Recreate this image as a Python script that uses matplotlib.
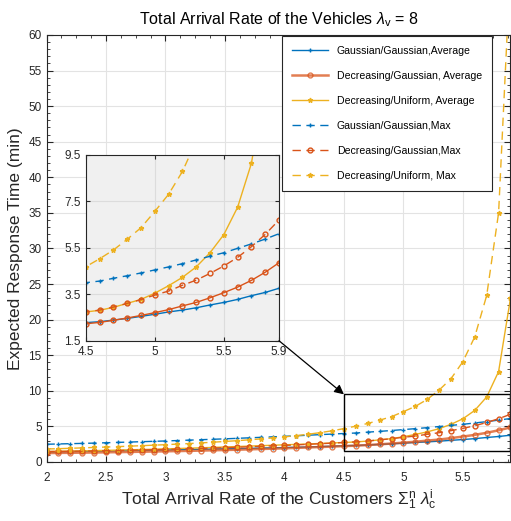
import numpy as np
import matplotlib.pyplot as plt
from matplotlib.patches import Rectangle, ConnectionPatch
from matplotlib.ticker import MultipleLocator, FixedLocator, FormatStrFormatter

plt.rcParams['font.family'] = ['Liberation Sans', 'DejaVu Sans']
plt.rcParams['mathtext.fontset'] = 'custom'
plt.rcParams['mathtext.rm'] = 'Liberation Sans'
plt.rcParams['mathtext.it'] = 'Liberation Sans:italic'

# arrival rate of customers, 2.0 ... 5.9
rate = np.round(np.arange(2.0, 5.95, 0.1), 1)

gg_avg = [1.40, 1.43, 1.46, 1.49, 1.52, 1.55, 1.58, 1.61, 1.64, 1.67,
          1.70, 1.73, 1.76, 1.79, 1.82, 1.85, 1.88, 1.91, 1.95, 1.99,
          2.03, 2.07, 2.11, 2.16, 2.22, 2.28, 2.32, 2.39, 2.46, 2.55,
          2.64, 2.74, 2.82, 2.92, 3.04, 3.15, 3.28, 3.44, 3.58, 3.76]
dg_avg = [1.25, 1.27, 1.29, 1.31, 1.33, 1.36, 1.38, 1.41, 1.44, 1.47,
          1.50, 1.53, 1.56, 1.60, 1.64, 1.68, 1.72, 1.77, 1.82, 1.87,
          1.92, 1.98, 2.04, 2.10, 2.16, 2.23, 2.29, 2.38, 2.48, 2.59,
          2.71, 2.84, 3.00, 3.15, 3.35, 3.57, 3.81, 4.10, 4.45, 4.86]
du_avg = [1.47, 1.50, 1.53, 1.56, 1.59, 1.63, 1.67, 1.71, 1.75, 1.79,
          1.84, 1.89, 1.94, 1.99, 2.05, 2.11, 2.17, 2.23, 2.29, 2.35,
          2.41, 2.47, 2.53, 2.60, 2.67, 2.74, 2.81, 2.94, 3.11, 3.28,
          3.55, 3.87, 4.23, 4.68, 5.29, 6.07, 7.25, 9.14, 12.7, 23.0]
gg_max = [2.49, 2.53, 2.57, 2.61, 2.65, 2.70, 2.75, 2.80, 2.85, 2.90,
          2.95, 3.01, 3.07, 3.13, 3.19, 3.25, 3.32, 3.39, 3.46, 3.53,
          3.60, 3.68, 3.76, 3.84, 3.92, 4.00, 4.07, 4.19, 4.30, 4.42,
          4.55, 4.68, 4.82, 4.98, 5.14, 5.29, 5.48, 5.67, 5.88, 6.11]
dg_max = [1.46, 1.48, 1.50, 1.52, 1.55, 1.58, 1.61, 1.64, 1.68, 1.72,
          1.76, 1.80, 1.85, 1.90, 1.95, 2.01, 2.07, 2.13, 2.19, 2.26,
          2.33, 2.40, 2.48, 2.56, 2.65, 2.74, 2.82, 2.95, 3.11, 3.27,
          3.47, 3.64, 3.89, 4.11, 4.40, 4.72, 5.09, 5.55, 6.08, 6.70]
du_max = [1.82, 1.87, 1.92, 1.98, 2.04, 2.10, 2.16, 2.22, 2.29, 2.36,
          2.43, 2.51, 2.59, 2.68, 2.78, 2.88, 2.99, 3.11, 3.24, 3.38,
          3.53, 3.70, 3.90, 4.12, 4.38, 4.69, 5.03, 5.41, 5.87, 6.37,
          7.07, 7.81, 8.79, 10.1, 11.7, 14.1, 17.6, 23.4, 35.0, 70.0]

labels = ['Gaussian/Gaussian,Average', 'Decreasing/Gaussian, Average',
          'Decreasing/Uniform, Average', 'Gaussian/Gaussian,Max',
          'Decreasing/Gaussian,Max', 'Decreasing/Uniform, Max']

BLUE = '#0072BD'
ORANGE = '#D95319'
YELLOW = '#EDB120'
dash = (0, (6, 4))

series = [
    (gg_avg, BLUE, '-', '+', 'full'),
    (dg_avg, ORANGE, '-', 'o', 'none'),
    (du_avg, YELLOW, '-', '*', 'full'),
    (gg_max, BLUE, dash, '+', 'full'),
    (dg_max, ORANGE, dash, 'o', 'none'),
    (du_max, YELLOW, dash, '*', 'full'),
]


def draw(ax, main):
    for i, (vals, c, ls, mk, fill) in enumerate(series):
        lw = 1.0
        alpha = 1.0
        if main and i == 1:
            lw, alpha = 1.8, 0.75
        ax.plot(rate, vals, color=c, linestyle=ls, marker=mk, ms=3.5,
                mew=1.0, fillstyle=fill, lw=lw, alpha=alpha,
                label=labels[i])


fig = plt.figure(figsize=(5.11, 5.21), dpi=100)
ax = fig.add_axes([0.091, 0.1133, 0.908, 0.8196])
draw(ax, True)
ax.set_xlim(2, 5.9)
ax.set_ylim(0, 60)
ax.xaxis.set_major_locator(FixedLocator([2, 2.5, 3, 3.5, 4, 4.5, 5, 5.5]))
ax.xaxis.set_major_formatter(FormatStrFormatter('%g'))
ax.xaxis.set_minor_locator(MultipleLocator(0.125))
ax.yaxis.set_major_locator(MultipleLocator(5))
ax.yaxis.set_minor_locator(MultipleLocator(1))
ax.tick_params(which='both', direction='in', top=True, right=True,
               labelsize=8.5, colors='#262626', labelcolor='#262626')
ax.tick_params(which='major', length=4)
ax.tick_params(which='minor', length=2)
ax.tick_params(axis='x', which='major', pad=7)
ax.grid(True, which='major', color='#e3e3e3', lw=0.8)
ax.set_axisbelow(True)
for s in ax.spines.values():
    s.set_color('#262626')
ax.set_title(r'Total Arrival Rate of the Vehicles $\lambda_{\mathrm{v}}$ = 8',
             fontsize=11.5, pad=8)
ax.set_xlabel(r'Total Arrival Rate of the Customers $\Sigma_1^{\mathrm{n}}\ \lambda_{\mathrm{c}}^{\mathrm{i}}$',
              fontsize=12.5, color='#262626', labelpad=3)
ax.set_ylabel('Expected Response Time (min)', fontsize=12.5, color='#262626')

leg = ax.legend(loc='upper right', bbox_to_anchor=(0.96, 0.998),
                borderaxespad=0, fontsize=7.6, handlelength=3.4,
                labelspacing=1.42, borderpad=0.95, fancybox=False,
                framealpha=1, edgecolor='#262626')
leg.get_frame().set_linewidth(0.8)

ax.add_patch(Rectangle((4.5, 1.5), 1.4, 8, fill=False, ec='black', lw=1,
                       zorder=5))

ins = fig.add_axes([0.168, 0.346, 0.378, 0.3565])
draw(ins, False)
ins.set_facecolor('#f0f0f0')
ins.set_xlim(4.5, 5.9)
ins.set_ylim(1.5, 9.5)
ins.set_xticks([4.5, 5, 5.5, 5.9])
ins.set_xticklabels(['4.5', '5', '5.5', '5.9'])
ins.set_yticks([1.5, 3.5, 5.5, 7.5, 9.5])
ins.tick_params(direction='in', top=True, right=True, labelsize=8.5,
                length=3, colors='#262626', labelcolor='#262626')
ins.grid(True, color='#dcdcdc', lw=0.8)
ins.set_axisbelow(True)
for s in ins.spines.values():
    s.set_color('#262626')

arrow = ConnectionPatch(xyA=(5.9, 1.5), coordsA=ins.transData,
                        xyB=(4.5, 9.5), coordsB=ax.transData,
                        arrowstyle='-|>', mutation_scale=14, color='black',
                        lw=0.9)
fig.add_artist(arrow)

fig.savefig('out.png', dpi=100)
